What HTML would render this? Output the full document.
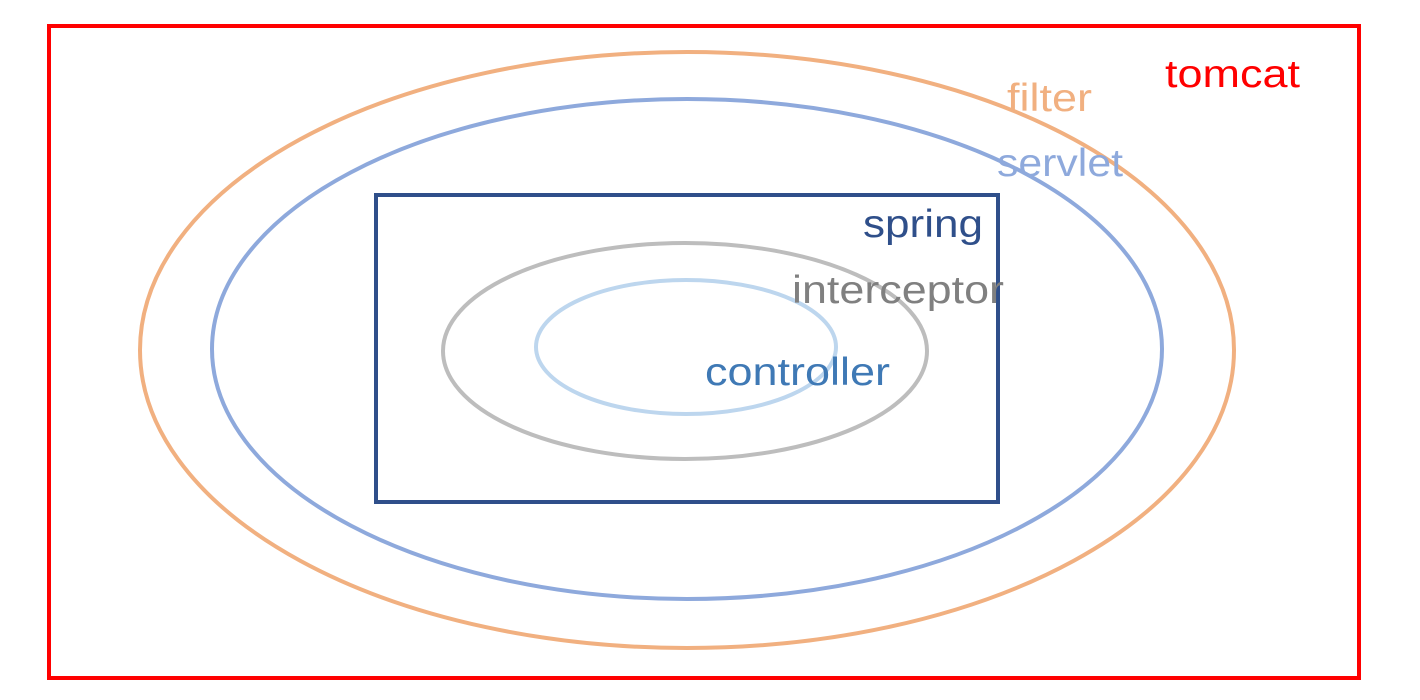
<!DOCTYPE html>
<html><head><meta charset="utf-8"><style>
html,body{margin:0;padding:0;background:#fff;}
svg{display:block}
text{font-family:"Liberation Sans","Noto Sans CJK SC",sans-serif;font-size:39px;}
</style></head><body>
<svg width="1420" height="700" viewBox="0 0 1420 700" xmlns="http://www.w3.org/2000/svg">
<rect x="0" y="0" width="1420" height="700" fill="#fff"/>
<rect x="49" y="26" width="1310" height="652" fill="none" stroke="#ff0000" stroke-width="4"/>
<ellipse cx="687" cy="350" rx="547" ry="298" fill="none" stroke="#f1b080" stroke-width="4"/>
<ellipse cx="687" cy="349" rx="475" ry="250" fill="none" stroke="#8ea9dc" stroke-width="4"/>
<rect x="376" y="195" width="622" height="307" fill="none" stroke="#2f4f8a" stroke-width="4"/>
<ellipse cx="685" cy="351" rx="242" ry="108" fill="none" stroke="#bdbdbd" stroke-width="4"/>
<ellipse cx="686" cy="347" rx="150" ry="67" fill="none" stroke="#bdd6ee" stroke-width="4"/>
<text x="1165" y="87" fill="#ff0000" textLength="135" lengthAdjust="spacingAndGlyphs">tomcat</text>
<text x="1007" y="111" fill="#f1b080" textLength="85" lengthAdjust="spacingAndGlyphs">filter</text>
<text x="997" y="176" fill="#8ea9dc" textLength="126" lengthAdjust="spacingAndGlyphs">servlet</text>
<text x="863" y="237" fill="#2f4f8a" textLength="120" lengthAdjust="spacingAndGlyphs">spring</text>
<text x="792" y="303" fill="#808080" textLength="212" lengthAdjust="spacingAndGlyphs">interceptor</text>
<text x="705" y="385" fill="#3f79b5" textLength="185" lengthAdjust="spacingAndGlyphs">controller</text>
</svg>
</body></html>
